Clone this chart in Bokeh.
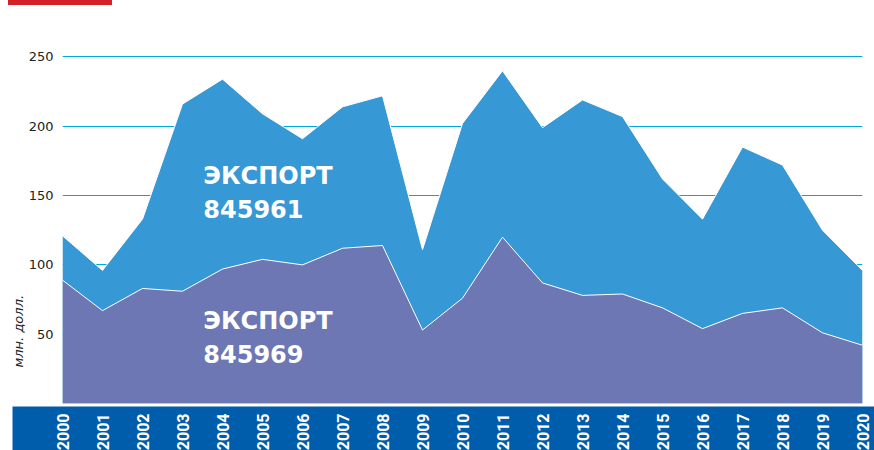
import math
from bokeh.plotting import figure
from bokeh.layouts import column
from bokeh.models import ColumnDataSource, Label, FixedTicker, Range1d, Div, Title
from bokeh.core.properties import value
from bokeh.embed import file_html
from bokeh.resources import INLINE

# ---- data ----
years = list(range(2000, 2021))
year_labels = [str(y) for y in years]
export_845961 = [121, 96, 133, 216, 234, 209, 191, 214, 222, 111, 202, 240,
                 199, 219, 207, 162, 133, 185, 172, 125, 96]
export_845969 = [89, 67, 83, 81, 97, 104, 100, 112, 114, 53, 76, 120,
                 87, 78, 79, 69, 54, 65, 69, 51, 42]
y_ticks = [50, 100, 150, 200, 250]

C_TOP = "#3698d4"
C_BOT = "#6d77b3"
C_BAND = "#005dab"
C_GRID = "#00a9e0"
C_RED = "#d32129"

src = ColumnDataSource(dict(x=years, a=export_845961, b=export_845969,
                            zero=[0] * len(years)))

# ---- red accent bar ----
bar = Div(text="", width=104, height=5, margin=(0, 0, 0, 8),
          styles={"background-color": C_RED})

# ---- main chart ----
p = figure(width=874, height=401, output_backend="svg", toolbar_location=None,
           x_range=Range1d(2000, 2020), y_range=Range1d(0, 269.1),
           min_border_left=62, min_border_right=12, min_border_top=25,
           min_border_bottom=3, frame_align=False)
p.outline_line_color = None
p.background_fill_color = "white"
p.border_fill_color = "white"

p.varea(x="x", y1="zero", y2="a", source=src, fill_color=C_TOP)
p.line(x="x", y="a", source=src, line_color="white", line_width=1)
p.varea(x="x", y1="zero", y2="b", source=src, fill_color=C_BOT)
p.line(x="x", y="b", source=src, line_color="white", line_width=1)

p.xaxis.visible = False
p.xgrid.visible = False
p.ygrid.ticker = FixedTicker(ticks=y_ticks)
p.ygrid.grid_line_color = C_GRID
p.ygrid.grid_line_width = 1.2

ya = p.yaxis[0]
ya.ticker = FixedTicker(ticks=y_ticks)
ya.axis_line_color = None
ya.major_tick_line_color = None
ya.minor_tick_line_color = None
ya.major_tick_out = 0
ya.major_tick_in = 0
ya.major_label_standoff = 9
ya.major_label_text_font = "DejaVu Sans"
ya.major_label_text_font_size = "13px"
ya.major_label_text_color = "#222222"

p.add_layout(Title(text="млн. долл.", align="left", offset=36, standoff=0,
                   text_font="DejaVu Sans", text_font_style="italic",
                   text_font_size="13px", text_color="#222222"), "left")

for txt, yy in [("ЭКСПОРТ", 164), ("845961", 140.5), ("ЭКСПОРТ", 59.5), ("845969", 35.5)]:
    p.add_layout(Label(x=2003.52, y=yy, text=txt, text_align="left",
                       text_baseline="alphabetic", text_font="DejaVu Sans",
                       text_font_style="bold", text_font_size="24px",
                       text_color="white"))

# ---- bottom year band ----
band = figure(width=874, height=44, output_backend="svg", toolbar_location=None,
              x_range=Range1d(1998.75, 2020.3), y_range=Range1d(0, 44),
              min_border_left=12, min_border_right=0, min_border_top=0,
              min_border_bottom=0, frame_align=False)
band.background_fill_color = C_BAND
band.border_fill_color = "white"
band.outline_line_color = None
band.axis.visible = False
band.grid.visible = False
band.text(x=years, y=[37] * len(years), text=year_labels, angle=math.pi / 2,
          text_align="right", text_baseline="middle",
          text_font=value("Roboto"),
          text_font_style="bold", text_font_size="16px", text_color="white")

layout = column(bar, p, band, spacing=0)
open("out.html", "w").write(file_html(layout, INLINE))
